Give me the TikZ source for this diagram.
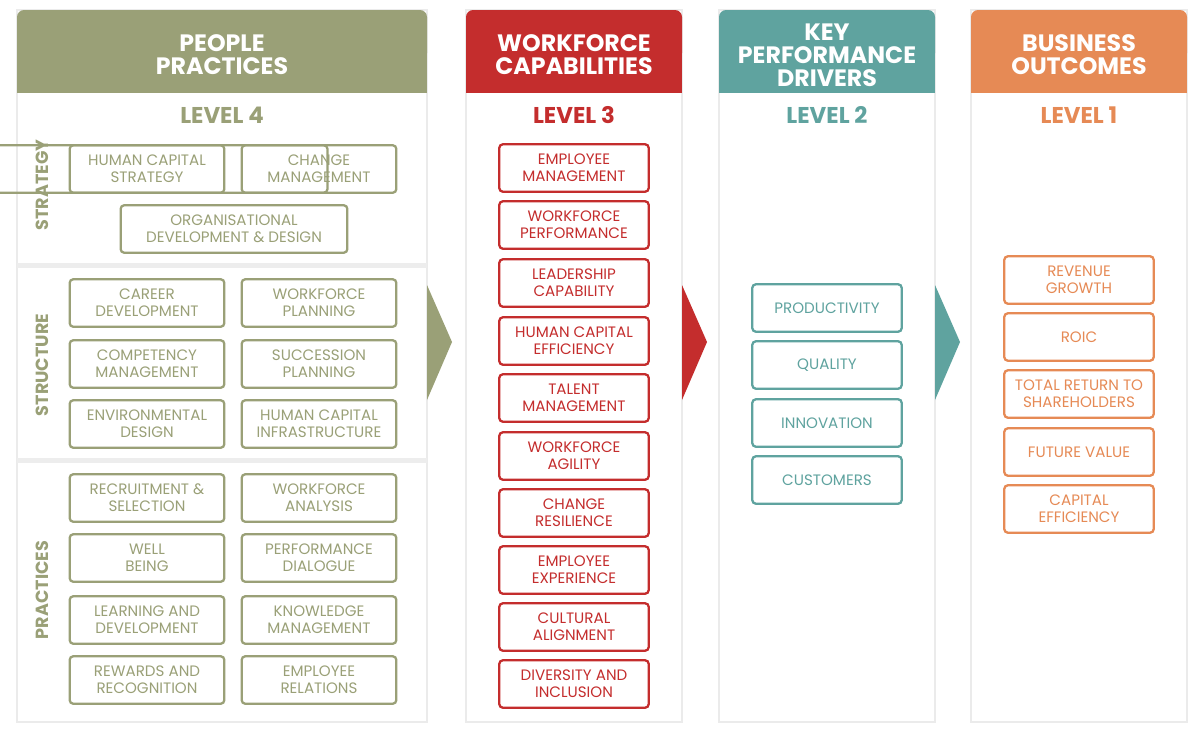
\documentclass[tikz,border=0pt]{standalone}
\usepackage{fontspec}
\setmainfont{Poppins}
\usepackage{tikz}
\usetikzlibrary{positioning}
\definecolor{olive}{HTML}{9AA077}
\definecolor{brick}{HTML}{C42D2D}
\definecolor{teal}{HTML}{5FA39F}
\definecolor{amber}{HTML}{E68A55}
\tikzset{
  panel/.style = {fill=white, draw=black!8, line width=1pt},
  head/.style = {text=white, font=\fontsize{13.5}{13}\selectfont\bfseries, align=center},
  level/.style = {font=\fontsize{13}{14}\selectfont\bfseries},
  item/.style = {draw=#1, text=#1, line width=1.3pt, rounded corners=2pt, align=center,
                 minimum height=27pt, font=\fontsize{8.6}{9.6}\selectfont, inner sep=1pt},
  side/.style = {text=olive, font=\fontsize{10}{10}\selectfont\bfseries, rotate=90}
}
\begin{document}
\begin{tikzpicture}[x=0.02cm, y=-0.02cm]
        \useasboundingbox[fill=white] (0,0) rectangle (1200,737);

        % panels and headers
        \foreach \xa/\xb/\col in {17/427/olive, 466/682/brick, 719/935/teal, 971/1187/amber} {
          \draw[panel] (\xa,10) rectangle (\xb,722);
          \fill[\col, rounded corners=4pt] (\xa,10) rectangle (\xb,60);
          \fill[\col] (\xa,40) rectangle (\xb,93);
        }
        \node[head] (h1) at (222,55) {PEOPLE\\PRACTICES};
        \node[head] (h2) at (574,55) {WORKFORCE\\CAPABILITIES};
        \node[head] (h3) at (827,55) {KEY\\PERFORMANCE\\DRIVERS};
        \node[head] (h4) at (1079,55) {BUSINESS\\OUTCOMES};

        \node[level, text=olive] (l4) at (222,115) {LEVEL 4};
        \node[level, text=brick] (l3) at (574,115) {LEVEL 3};
        \node[level, text=teal] (l2) at (827,115) {LEVEL 2};
        \node[level, text=amber] (l1) at (1079,115) {LEVEL 1};

        % section dividers
        \fill[black!7] (17,263) rectangle (427,268);
        \fill[black!7] (17,458) rectangle (427,463);
        \node[side] (s1) at (42,185) {STRATEGY};
        \node[side] (s2) at (42,365) {STRUCTURE};
        \node[side] (s3) at (42,590) {PRACTICES};

        % chevrons
        \fill[olive] (427,285) -- (452,342) -- (427,400) -- cycle;
        \fill[brick] (682,285) -- (707,342) -- (682,400) -- cycle;
        \fill[teal] (935,285) -- (960,342) -- (935,400) -- cycle;

        % level 4
        \node[item=olive, minimum width=158\pgflinewidth] (hcs) at (147,169) {};
        \foreach \y/\a/\b [count=\i] in {
            169/HUMAN CAPITAL\\STRATEGY/CHANGE\\MANAGEMENT,
            303/CAREER\\DEVELOPMENT/WORKFORCE\\PLANNING,
            364/COMPETENCY\\MANAGEMENT/SUCCESSION\\PLANNING,
            424/ENVIRONMENTAL\\DESIGN/HUMAN CAPITAL\\INFRASTRUCTURE,
            498/RECRUITMENT \&\\SELECTION/WORKFORCE\\ANALYSIS,
            558/WELL\\BEING/PERFORMANCE\\DIALOGUE,
            620/LEARNING AND\\DEVELOPMENT/KNOWLEDGE\\MANAGEMENT,
            680/REWARDS AND\\RECOGNITION/EMPLOYEE\\RELATIONS} {
          \node[item=olive, minimum width=88pt] (pl\i) at (147,\y) {\a};
          \node[item=olive, minimum width=88pt] (pr\i) at (319,\y) {\b};
        }
        \node[item=olive, minimum width=129pt] (odd) at (234,229) {ORGANISATIONAL\\DEVELOPMENT \& DESIGN};

        % level 3
        \foreach \y/\t [count=\i] in {
            168/EMPLOYEE\\MANAGEMENT, 225/WORKFORCE\\PERFORMANCE,
            283/LEADERSHIP\\CAPABILITY, 341/HUMAN CAPITAL\\EFFICIENCY,
            398/TALENT\\MANAGEMENT, 456/WORKFORCE\\AGILITY,
            513/CHANGE\\RESILIENCE, 570/EMPLOYEE\\EXPERIENCE,
            627/CULTURAL\\ALIGNMENT, 684/DIVERSITY AND\\INCLUSION} {
          \node[item=brick, minimum width=85pt] (wc\i) at (574,\y) {\t};
        }

        % level 2
        \foreach \y/\t [count=\i] in {308/PRODUCTIVITY, 365/QUALITY, 423/INNOVATION, 480/CUSTOMERS} {
          \node[item=teal, minimum width=85pt] (kd\i) at (827,\y) {\t};
        }

        % level 1
        \foreach \y/\t [count=\i] in {280/REVENUE\\GROWTH, 337/ROIC,
            394/TOTAL RETURN TO\\SHAREHOLDERS, 452/FUTURE VALUE, 509/CAPITAL\\EFFICIENCY} {
          \node[item=amber, minimum width=85pt] (bo\i) at (1079,\y) {\t};
        }
\end{tikzpicture}
\end{document}
